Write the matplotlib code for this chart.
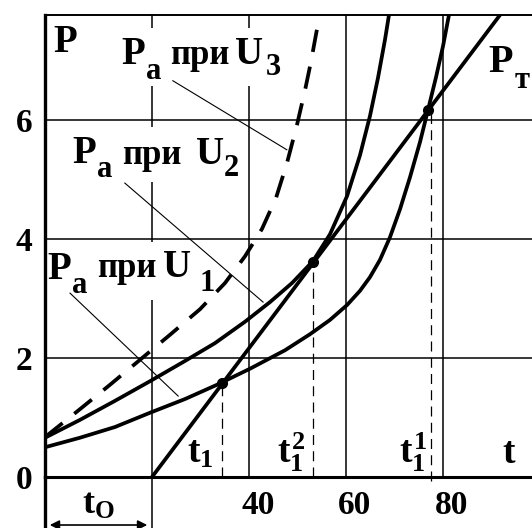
import matplotlib.pyplot as plt
import matplotlib.transforms as mtransforms
from matplotlib.patches import Rectangle

plt.rcParams['font.family'] = 'Liberation Serif'
plt.rcParams['font.weight'] = 'bold'
plt.rcParams['mathtext.fontset'] = 'custom'
plt.rcParams['mathtext.rm'] = 'Liberation Serif:bold'
plt.rcParams['mathtext.it'] = 'Liberation Serif:bold'
plt.rcParams['mathtext.bf'] = 'Liberation Serif:bold'

# curves: t, P
t_u1 = [-2.06, 5.15, 12.37, 19.59, 26.80, 33.40, 40.21, 47.42, 52.58, 56.70, 60.21,
        62.89, 64.95, 67.01, 69.07, 71.13, 73.20, 75.26, 76.91, 78.56, 80.00, 81.24]
p_u1 = [0.50, 0.66, 0.84, 1.08, 1.31, 1.55, 1.82, 2.13, 2.40, 2.64, 2.89,
        3.13, 3.36, 3.65, 4.03, 4.50, 5.04, 5.63, 6.17, 6.72, 7.24, 7.77]

t_u2 = [-2.06, 5.15, 12.37, 19.59, 26.80, 32.99, 39.18, 44.33, 48.87, 53.20,
        56.70, 60.21, 62.89, 64.95, 66.60, 68.04, 68.87]
p_u2 = [0.66, 0.96, 1.28, 1.61, 1.95, 2.25, 2.61, 2.94, 3.26, 3.63,
        4.08, 4.72, 5.41, 6.07, 6.71, 7.35, 7.77]

t_u3 = [-2.06, 5.15, 11.34, 17.53, 23.71, 29.90, 35.05, 39.18, 42.68, 45.57,
        47.84, 49.90, 51.55, 52.78, 54.43]
p_u3 = [0.67, 1.14, 1.55, 1.97, 2.39, 2.82, 3.26, 3.71, 4.17, 4.69,
        5.28, 5.92, 6.50, 6.98, 7.71]

t_pt = [20.0, 91.75]
p_pt = [0.0, 7.765]

# intersection points t1, t1^2, t1^1
t_cross = [34.43, 53.2, 77.0]
p_cross = [1.58, 3.61, 6.16]
t_drop = [34.43, 53.2, 77.6]
cross_labels = ['$t_1$', '$t_1^2$', '$t_1^1$', '$t$']
cross_label_t = [27.3, 45.8, 70.9, 92.2]

x_ticks = [40, 60, 80]
y_ticks = [0, 2, 4, 6]
x_grid = [20, 40, 60, 80]
y_grid = [2, 4, 6]

W, H = 532, 528
fig = plt.figure(figsize=(W / 100, H / 100), dpi=100)
ax = fig.add_axes([45 / W, 51 / H, 487 / W, 462 / H])
ax.set_xlim(-2.06, 98.35)
ax.set_ylim(0, 7.765)

# grid
for x in x_grid:
    lo = -0.86 if x == 20 else 0
    ax.plot([x, x], [lo, 7.765], color='black', lw=1.1, zorder=1, clip_on=False)
for y in y_grid:
    ax.axhline(y, color='black', lw=1.1, zorder=1)

# frame
ax.spines['right'].set_visible(False)
ax.spines['left'].set_linewidth(2.4)
ax.spines['bottom'].set_linewidth(2.2)
ax.spines['top'].set_linewidth(1.4)
for sp in ax.spines.values():
    sp.set_zorder(5)
ax.plot([-2.06, -2.06], [-0.86, 0], color='black', lw=2.4, clip_on=False, zorder=5)

# curves
ax.plot(t_u1, p_u1, color='black', lw=2.7, zorder=4, solid_joinstyle='round')
ax.plot(t_u2, p_u2, color='black', lw=2.7, zorder=4, solid_joinstyle='round')
ax.plot(t_u3, p_u3, color='black', lw=2.7, zorder=4, dashes=(6, 4))
ax.plot(t_pt, p_pt, color='black', lw=2.7, zorder=4)

# intersections
ax.plot(t_cross, p_cross, 'o', color='black', ms=7, zorder=5)
for i, (tc, pc) in enumerate(zip(t_drop, p_cross)):
    lo = -0.06 if i == 2 else 0
    ax.plot([tc, tc], [lo, pc], color='black', lw=0.9, dashes=(8, 5), zorder=2, clip_on=False)

# ticks
ax.set_xticks(x_ticks)
ax.set_xticklabels([str(v) for v in x_ticks], fontsize=24)
ax.set_yticks(y_ticks)
ax.set_yticklabels([str(v) for v in y_ticks], fontsize=24)
ax.tick_params(length=0, pad=9)
shift = mtransforms.ScaledTranslation(9 / 100, 0, fig.dpi_scale_trans)
for lab in ax.get_xticklabels():
    lab.set_transform(lab.get_transform() + shift)


def white_box(x0, y0, x1, y1):
    ax.add_patch(Rectangle((x0 / W, 1 - y1 / H), (x1 - x0) / W, (y1 - y0) / H,
                           transform=fig.transFigure, fc='white', ec='none',
                           zorder=3, clip_on=False))


def piece(x, base, s, size):
    ax.text(x / W, 1 - base / H, s, transform=fig.transFigure, fontsize=size,
            ha='left', va='baseline', zorder=6)


# curve labels, built piece by piece (pixel positions)
white_box(118, 28, 290, 86)
for s, x, b, fs in [('P', 121, 64, 28), ('a', 146, 79, 22), ('при', 170, 64, 25),
                    ('U', 235, 64, 28), ('3', 266, 75, 22)]:
    piece(x, b, s, fs)

white_box(70, 127, 246, 182)
for s, x, b, fs in [('P', 72, 163, 28), ('a', 97, 177, 22), ('при', 122, 164, 25),
                    ('U', 196, 164, 28), ('2', 224, 176, 22)]:
    piece(x, b, s, fs)

white_box(48, 242, 216, 300)
for s, x, b, fs in [('P', 47, 279, 28), ('a', 72, 293, 22), ('при', 97, 277, 25),
                    ('U', 163, 277, 28), ('1', 199, 291, 22)]:
    piece(x, b, s, fs)

piece(488, 72, 'P', 29)
piece(515, 88, 'т', 22)
piece(53, 52, 'P', 28)

# leader lines
ax.plot([24.3, 47.8], [6.66, 5.50], color='black', lw=0.8, zorder=3.5)
ax.plot([14.4, 42.9], [4.94, 2.94], color='black', lw=0.8, zorder=3.5)
ax.plot([3.1, 25.4], [3.09, 1.36], color='black', lw=0.8, zorder=3.5)

# t labels near the axis
for lab, tx in zip(cross_labels, cross_label_t):
    ax.text(tx, 0.235, lab, fontsize=27, ha='left', va='baseline')

# t_o span under the axis
ax.annotate('', xy=(-1.65, -0.807), xytext=(19.6, -0.807),
            arrowprops=dict(arrowstyle='<|-|>', color='black', lw=1.2, mutation_scale=14),
            annotation_clip=False)
ax.text(8.9, -0.47, '$t_O$', fontsize=26, ha='center', va='center')

fig.savefig('out.png', dpi=100)
